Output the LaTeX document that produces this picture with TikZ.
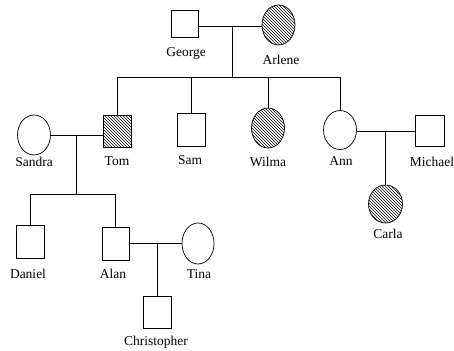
\documentclass[tikz,border=0pt]{standalone}
\usepackage{fontspec}
\setmainfont{Liberation Serif}
\usetikzlibrary{shapes.geometric,patterns}
\tikzset{
  male/.style={draw,rectangle,inner sep=0pt,minimum width=28pt,minimum height=32pt,line width=0.7pt},
  female/.style={draw,ellipse,inner sep=0pt,minimum width=33pt,minimum height=40pt,line width=0.7pt},
  affected/.style={pattern=north west lines,pattern color=black},
  lbl/.style={inner sep=0pt,font=\fontsize{13.5pt}{14pt}\selectfont,text height=9.5pt,text depth=3pt},
  link/.style={line width=0.7pt}
}
\begin{document}
\begin{tikzpicture}[x=1pt,y=-1pt]
\useasboundingbox (0,0) rectangle (454,350);
% generation 1
\node[male,minimum width=27pt,minimum height=27pt] (George) at (185,24) {};
\node[female,affected] (Arlene) at (278.5,25) {};
\draw[link] (George.east |- 0,26) -- (Arlene.west |- 0,26);
\coordinate (mGA) at (232,26);
\coordinate (s1L) at (117,77.5);
\coordinate (s1R) at (340,77.5);
\draw[link] (mGA) -- (mGA |- s1L);
\draw[link] (s1L) -- (s1R);
% generation 2
\node[female] (Sandra) at (34,135) {};
\node[male,affected] (Tom) at (117,131) {};
\node[male,minimum height=33pt] (Sam) at (191,130) {};
\node[female,affected] (Wilma) at (268,128) {};
\node[female,minimum height=39pt] (Ann) at (340,130) {};
\node[male,minimum width=29pt,minimum height=31pt] (Michael) at (430,131) {};
\draw[link] (s1L) -- (Tom.north);
\draw[link] (Sam.north |- s1L) -- (Sam.north);
\draw[link] (Wilma.north |- s1L) -- (Wilma.north);
\draw[link] (s1R) -- (Ann.north);
\draw[link] (Sandra.east) -- (Sandra.east -| Tom.west);
\draw[link] (Ann.east |- Michael.west) -- (Michael.west);
% Carla
\node[female,affected,minimum width=34pt,minimum height=38pt] (Carla) at (385.5,204) {};
\coordinate (mAM) at (385.5,131);
\draw[link] (mAM) -- (Carla.north);
% generation 3
\coordinate (mST) at (76,135);
\coordinate (s2L) at (30,194);
\coordinate (s2R) at (115.5,194);
\draw[link] (mST) -- (mST |- s2L);
\draw[link] (s2L) -- (s2R);
\node[male,minimum height=33pt] (Daniel) at (30,241.5) {};
\node[male,minimum width=27pt,minimum height=33pt] (Alan) at (115.5,243.5) {};
\node[female,minimum width=32pt,minimum height=41pt] (Tina) at (198,243.5) {};
\draw[link] (s2L) -- (Daniel.north);
\draw[link] (s2R) -- (Alan.north);
\draw[link] (Alan.east) -- (Tina.west);
\node[male] (Christopher) at (157,312) {};
\coordinate (mAT) at (157,243.5);
\draw[link] (mAT) -- (Christopher.north);
% labels
\node[lbl] (lGeorge) at (186,53) {George};
\node[lbl] (lArlene) at (281,61) {Arlene};
\node[lbl] (lSandra) at (34,163) {Sandra};
\node[lbl] (lTom) at (117,162) {Tom};
\node[lbl] (lSam) at (190,161) {Sam};
\node[lbl] (lWilma) at (268,163) {Wilma};
\node[lbl] (lAnn) at (341,162) {Ann};
\node[lbl] (lMichael) at (432,163) {Michael};
\node[lbl] (lCarla) at (388,235) {Carla};
\node[lbl] (lDaniel) at (28,275) {Daniel};
\node[lbl] (lAlan) at (113,275) {Alan};
\node[lbl] (lTina) at (199,275) {Tina};
\node[lbl] (lChristopher) at (156,342) {Christopher};
\end{tikzpicture}
\end{document}
